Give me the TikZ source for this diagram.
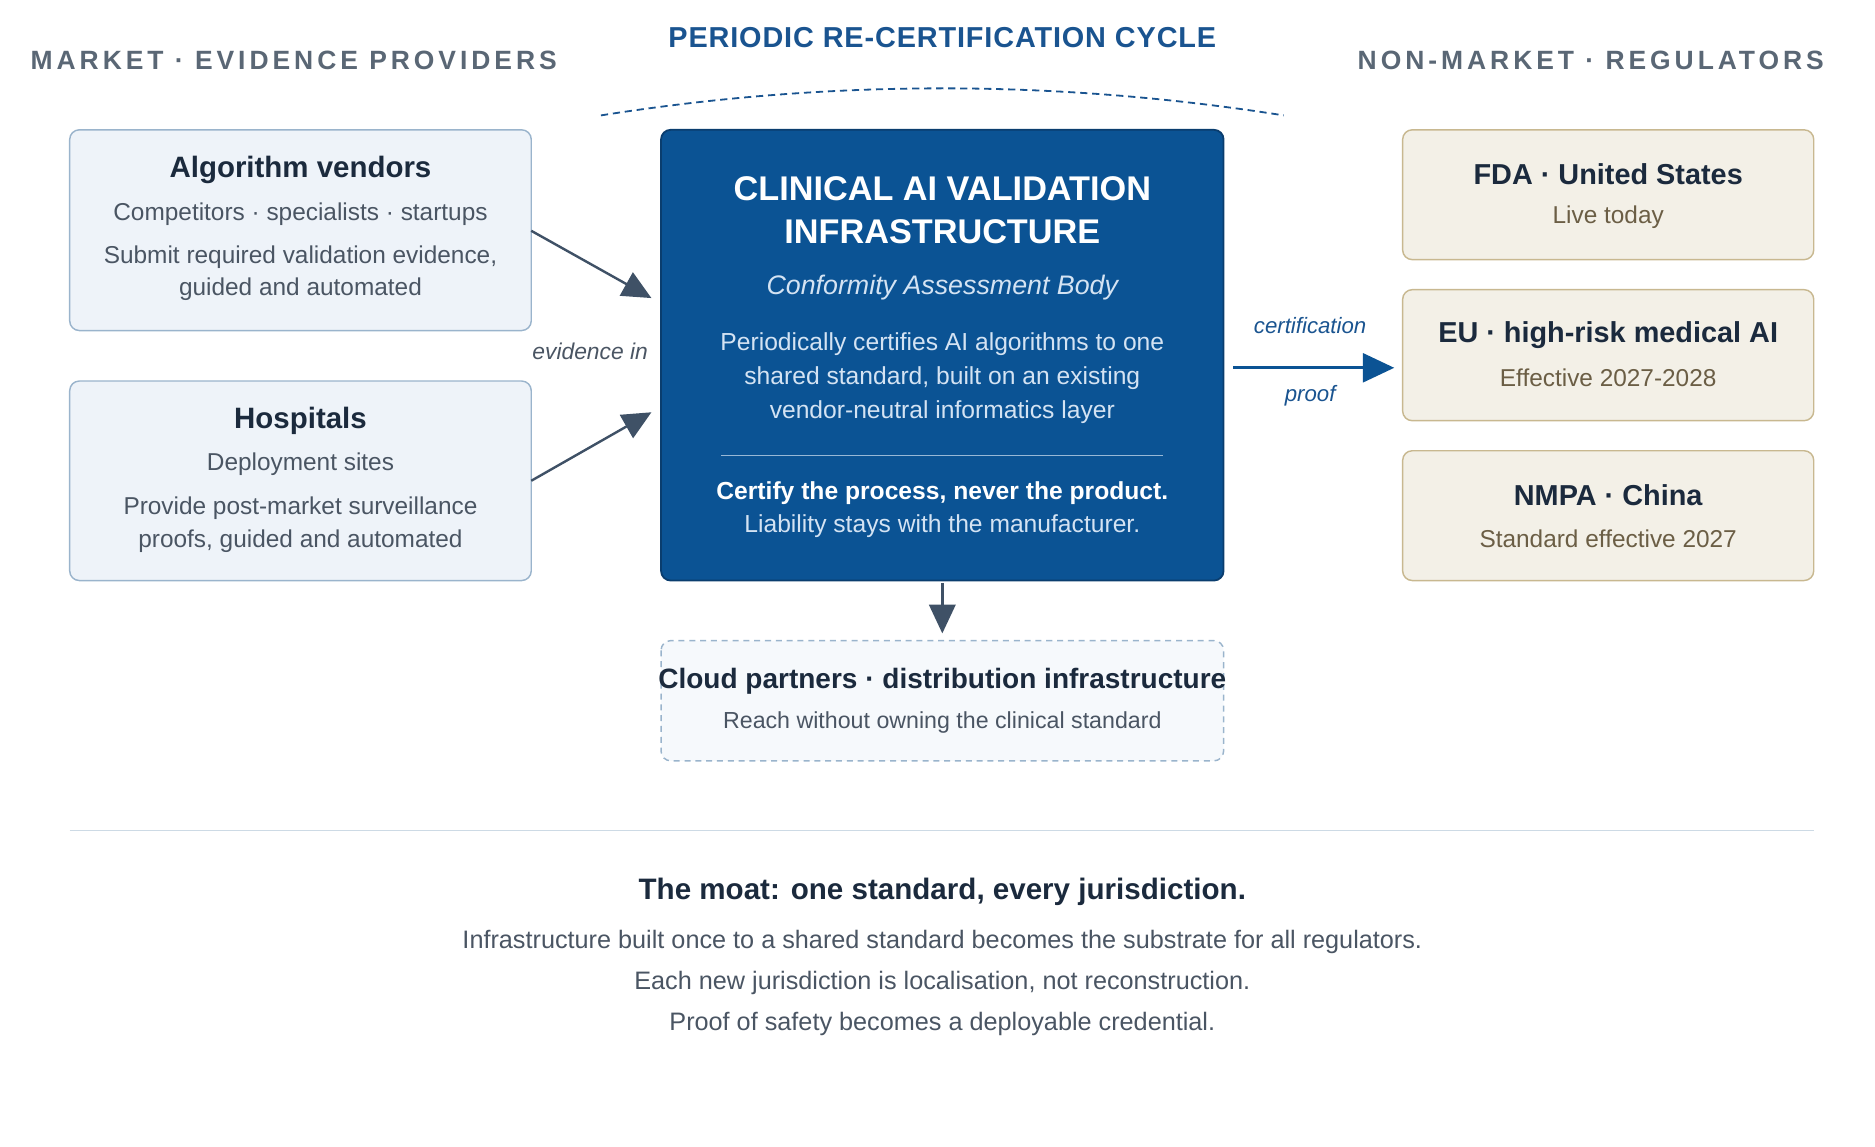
\documentclass[tikz,border=0pt]{standalone}
\usepackage{fontspec}
\setmainfont{Liberation Sans}
\usetikzlibrary{arrows.meta}
\definecolor{hdr}{HTML}{5A6775}
\definecolor{cyc}{HTML}{1A5490}
\definecolor{mfill}{HTML}{EEF3F9}
\definecolor{mline}{HTML}{9AB4CC}
\definecolor{cfill}{HTML}{0B5394}
\definecolor{cline}{HTML}{0A3D6E}
\definecolor{rfill}{HTML}{F3F0E7}
\definecolor{rline}{HTML}{C8B890}
\definecolor{rsub}{HTML}{6B5E45}
\definecolor{dark}{HTML}{1B2A3D}
\definecolor{body}{HTML}{4A5563}
\definecolor{arr}{HTML}{3F5166}
\definecolor{lblue}{HTML}{D4E3F3}
\begin{document}
\begin{tikzpicture}[x=1pt,y=-1pt,
  box/.style={draw=mline,fill=mfill,rounded corners=8pt,line width=1.2pt},
  reg/.style={draw=rline,fill=rfill,rounded corners=8pt,line width=1.2pt},
  hd/.style={font=\bfseries\fontsize{22}{24}\selectfont\addfontfeatures{LetterSpace=15},text=hdr},
  ttl/.style={font=\bfseries\fontsize{24.5}{28}\selectfont,text=dark},
  sub/.style={font=\fontsize{20.3}{24}\selectfont,text=body},
  arrw/.style={-{Triangle[length=24pt,width=22pt]},line width=2pt,draw=arr}]
\useasboundingbox (0,0) rectangle (1560,954);
\node[hd,anchor=west] (h1) at (22,50) {MARKET · EVIDENCE PROVIDERS};
\node[hd,anchor=east] (h2) at (1521,50) {NON-MARKET · REGULATORS};
\node[font=\bfseries\fontsize{24}{26}\selectfont\addfontfeatures{LetterSpace=3},text=cyc] (cy) at (784,31) {PERIODIC RE-CERTIFICATION CYCLE};
\coordinate (a1) at (500,96); \coordinate (a2) at (1068,96);
\draw[cyc,dashed,line width=1.5pt,dash pattern=on 6pt off 4pt] (a1) .. controls (690,66) and (878,66) .. (a2);
% left boxes
\draw[box] (58,108) rectangle (442,275); \coordinate (v) at (442,192);
\node[ttl] at (250,141) {Algorithm vendors};
\node[sub] at (250,178) {Competitors · specialists · startups};
\node[sub] at (250,214) {Submit required validation evidence,};
\node[sub] at (250,241) {guided and automated};
\draw[box] (58,317) rectangle (442,483); \coordinate (h) at (442,400);
\node[ttl] at (250,350) {Hospitals};
\node[sub] at (250,386) {Deployment sites};
\node[sub] at (250,423) {Provide post-market surveillance};
\node[sub] at (250,450) {proofs, guided and automated};
% center
\draw[fill=cfill,draw=cline,rounded corners=8pt,line width=1.5pt] (550,108) rectangle (1018,483);
\coordinate (c1) at (542,248); \coordinate (c2) at (542,343);
\node[font=\bfseries\fontsize{28.5}{32}\selectfont,text=white] at (784,157) {CLINICAL AI VALIDATION};
\node[font=\bfseries\fontsize{28.5}{32}\selectfont,text=white] at (784,193) {INFRASTRUCTURE};
\node[font=\itshape\fontsize{22.3}{26}\selectfont,text=lblue] at (784,239) {Conformity Assessment Body};
\foreach \t/\y in {Periodically certifies AI algorithms to one/286,shared standard{,} built on an existing/315,vendor-neutral informatics layer/343}
  \node[font=\fontsize{20.5}{24}\selectfont,text=lblue] at (784,\y) {\t};
\draw[lblue!70!cfill,line width=1pt] (600,379) -- (968,379);
\node[font=\bfseries\fontsize{20.5}{24}\selectfont,text=white] at (784,410) {Certify the process, never the product.};
\node[font=\fontsize{20.5}{24}\selectfont,text=lblue] at (784,438) {Liability stays with the manufacturer.};
\draw[arrw] (v) -- (c1);
\draw[arrw] (h) -- (c2);
\node[font=\itshape\fontsize{19}{22}\selectfont,text=body] at (491,292) {evidence in};
% right arrow
\coordinate (r0) at (1026,306); \coordinate (r1) at (1160,306);
\draw[-{Triangle[length=26pt,width=24pt]},line width=2.2pt,draw=cfill] (r0) -- (r1);
\node[font=\itshape\fontsize{18.5}{22}\selectfont,text=cyc] at (1090,271) {certification};
\node[font=\itshape\fontsize{18.5}{22}\selectfont,text=cyc] at (1090,329) {proof};
% regulators
\foreach \a/\b/\t/\s in {108/216/FDA · United States/Live today,241/350/EU · high-risk medical AI/Effective 2027-2028,375/483/NMPA · China/Standard effective 2027}{
  \draw[reg] (1167,\a) rectangle (1509,\b);
  \node[font=\bfseries\fontsize{24}{28}\selectfont,text=dark] at (1338,{(\a+\b)/2-17}) {\t};
  \node[font=\fontsize{20.3}{24}\selectfont,text=rsub] at (1338,{(\a+\b)/2+19}) {\s};}
% down arrow
\coordinate (d0) at (784,485); \coordinate (d1) at (784,527);
\draw[arrw] (d0) -- (d1);
\draw[draw=mline,fill=mfill!50!white,dashed,dash pattern=on 5pt off 4pt,rounded corners=8pt,line width=1.2pt] (550,533) rectangle (1018,633);
\node[font=\bfseries\fontsize{23.3}{26}\selectfont,text=dark] at (784,567) {Cloud partners · distribution infrastructure};
\node[font=\fontsize{19.3}{22}\selectfont,text=body] at (784,601) {Reach without owning the clinical standard};
% bottom
\draw[mline!50!white,line width=1pt] (58,691) -- (1509,691);
\node[font=\bfseries\fontsize{24.6}{28}\selectfont,text=dark] at (784,742) {The moat: one standard, every jurisdiction.};
\node[font=\fontsize{21}{24}\selectfont,text=body] at (784,784) {Infrastructure built once to a shared standard becomes the substrate for all regulators.};
\node[font=\fontsize{21}{24}\selectfont,text=body] at (784,818) {Each new jurisdiction is localisation, not reconstruction.};
\node[font=\fontsize{21}{24}\selectfont,text=body] at (784,852) {Proof of safety becomes a deployable credential.};
\end{tikzpicture}
\end{document}
